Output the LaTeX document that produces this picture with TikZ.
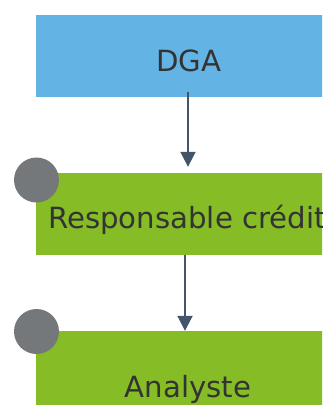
\documentclass[tikz,border=0pt]{standalone}
\usepackage{fontspec}
\setmainfont{DejaVu Sans}
\usetikzlibrary{arrows.meta}
\definecolor{boxblue}{HTML}{63B4E4}
\definecolor{boxgreen}{HTML}{86BC25}
\definecolor{dotgrey}{HTML}{75787B}
\definecolor{arrowcol}{HTML}{44546A}
\definecolor{txtcol}{HTML}{333333}
\tikzset{
  box/.style={rectangle, draw=none, minimum width=306pt, minimum height=82pt, inner sep=0pt},
  lbl/.style={anchor=base, inner sep=0pt, text=txtcol, font=\fontsize{29.2pt}{32pt}\selectfont},
  dot/.style={circle, fill=dotgrey, minimum size=45pt, inner sep=0pt},
  arr/.style={draw=arrowcol, line width=2pt, -{Triangle[length=15pt,width=15pt]}}
}
\begin{document}
\begin{tikzpicture}[x=1pt,y=-1pt]
\useasboundingbox (0,0) rectangle (322,405);
\clip (0,0) rectangle (322,405);
\node[box, fill=boxblue] (dga) at (189,56) {};
\node[box, fill=boxgreen] (resp) at (189,214) {};
\node[box, fill=boxgreen] (ana) at (189,372) {};
\node[dot] (c1) at (36.5,180) {};
\node[dot] (c2) at (36.5,331.5) {};
\node[lbl] (tdga) at (189,71) {DGA};
\node[lbl, anchor=base west] (tresp) at (48,228) {Responsable crédit};
\node[lbl] (tana) at (188,397) {Analyste};
\draw[arr] ([xshift=-1pt,yshift=5pt]dga.south) -- ([xshift=-1pt,yshift=6pt]resp.north);
\draw[arr] ([xshift=-4pt]resp.south) -- ([xshift=-4pt]ana.north);
\end{tikzpicture}
\end{document}
